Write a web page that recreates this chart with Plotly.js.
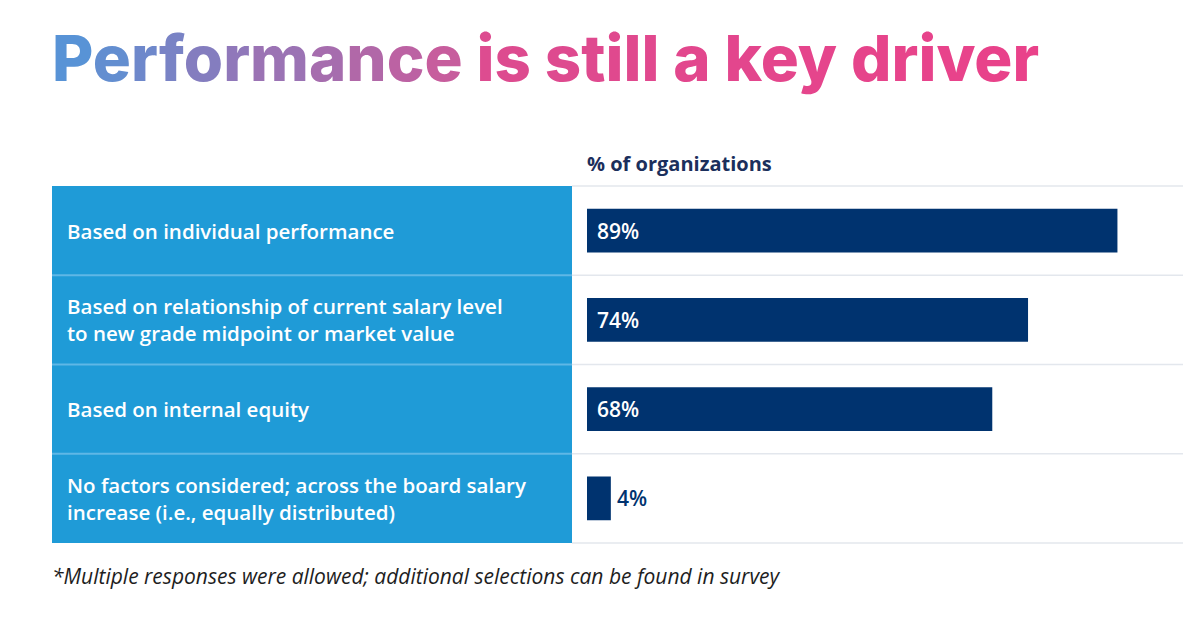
<!DOCTYPE html>
<html>
<head>
<meta charset="utf-8">
<script src="https://cdn.plot.ly/plotly-3.0.1.min.js"></script>
<style>
  html, body { margin: 0; padding: 0; background: #ffffff; }
  #chart { width: 1200px; height: 630px; }
</style>
</head>
<body>
<div id="chart"></div>
<script>
// Survey results: how salary increases are determined
const categories = [
  "Based on individual performance",
  "Based on relationship of current salary level<br>to new grade midpoint or market value",
  "Based on internal equity",
  "No factors considered; across the board salary<br>increase (i.e., equally distributed)"
];
const values = [89, 74, 68, 4];
const valueLabels = ["89%", "74%", "68%", "4%"];

const titleLead = "Performance";
const titleRest = " is still a key driver";
const headerText = "% of organizations";
const footnoteText = "*Multiple responses were allowed; additional selections can be found in survey";

const NAVY = "#00336f";
const PANEL = "#1f9bd7";

// Colour each letter of the title along a blue→pink ramp
function lerpColor(a, b, t) {
  const pa = [1, 3, 5].map(i => parseInt(a.substr(i, 2), 16));
  const pb = [1, 3, 5].map(i => parseInt(b.substr(i, 2), 16));
  const c = pa.map((v, i) => Math.round(v + (pb[i] - v) * t));
  return "rgb(" + c.join(",") + ")";
}
function rampText(str, c1, c2) {
  const chars = str.split("");
  return chars.map((ch, i) => {
    const t = chars.length > 1 ? i / (chars.length - 1) : 0;
    return '<span style="color:' + lerpColor(c1, c2, t) + '">' + ch + '</span>';
  }).join("");
}
const titleHtml = rampText(titleLead, "#5893d6", "#c75d9d") + rampText(titleRest, "#dc4c90", "#e9428a");

const trace = {
  type: "bar",
  orientation: "h",
  y: categories,
  x: values,
  marker: { color: NAVY, line: { width: 0 } },
  width: 0.49,
  hoverinfo: "skip"
};

// Panel edges in paper coordinates (plot area spans x 587..1183 px)
const plotL = 587, plotW = 596;
const panelX0 = (52 - plotL) / plotW;
const panelX1 = (572 - plotL) / plotW;
const labelX = (65 - plotL) / plotW;

const shapes = [
  { type: "rect", xref: "paper", yref: "paper", x0: panelX0, x1: panelX1, y0: 0, y1: 1,
    fillcolor: PANEL, line: { width: 0 }, layer: "below" }
];
const n = categories.length;
for (let i = 0; i <= n; i++) {
  const yy = i / n;
  shapes.push({ type: "line", xref: "paper", yref: "paper", x0: panelX1, x1: 1, y0: yy, y1: yy,
    line: { color: "#e3e7ed", width: 1.5 }, layer: "below" });
  if (i > 0 && i < n) {
    shapes.push({ type: "line", xref: "paper", yref: "paper", x0: panelX0, x1: panelX1, y0: yy, y1: yy,
      line: { color: "#5fb7e6", width: 2 }, layer: "above" });
  }
}

// Row labels inside the blue panel
const annotations = categories.map(c => ({
  xref: "paper", yref: "y", x: labelX, y: c,
  xanchor: "left", yanchor: "middle", align: "left",
  text: c, showarrow: false,
  font: { family: "Open Sans", size: 20.5, weight: 600, color: "#ffffff" }
}));

// Value labels: inside the bar start in white, or just past a short bar in navy
values.forEach((v, i) => {
  const inside = v >= 15;
  annotations.push({
    xref: "x", yref: "y", x: inside ? 0 : v, y: categories[i],
    xanchor: "left", yanchor: "middle", xshift: inside ? 8 : 4,
    text: valueLabels[i], showarrow: false,
    font: { family: "Open Sans", size: 21, weight: 600, color: inside ? "#ffffff" : NAVY }
  });
});

annotations.push({
  xref: "paper", yref: "paper", x: -0.004, y: (543 - 163) / 357,
  xanchor: "left", yanchor: "middle", text: headerText, showarrow: false,
  font: { family: "Open Sans", size: 20, weight: 700, color: "#1b2f5c" }
});
annotations.push({
  xref: "paper", yref: "paper", x: panelX0 - 0.004, y: (543 - 576) / 357,
  xanchor: "left", yanchor: "middle", text: "<i>" + footnoteText + "</i>", showarrow: false,
  font: { family: "Open Sans", size: 21, weight: 500, color: "#1e1e1e" }
});

const layout = {
  width: 1200, height: 630,
  paper_bgcolor: "#ffffff", plot_bgcolor: "rgba(0,0,0,0)",
  margin: { l: plotL, r: 1200 - plotL - plotW, t: 186, b: 87, pad: 0 },
  title: {
    text: titleHtml,
    xref: "container", yref: "container",
    x: 52 / 1200, xanchor: "left",
    y: 1 - 59 / 630, yanchor: "middle",
    font: { family: "Inter", size: 63.5, weight: 800 }
  },
  xaxis: { range: [0, 100], visible: false, fixedrange: true },
  yaxis: { autorange: "reversed", showticklabels: false, showgrid: false, zeroline: false, fixedrange: true },
  showlegend: false,
  bargap: 0.51,
  shapes: shapes,
  annotations: annotations
};

Plotly.newPlot("chart", [trace], layout, { displayModeBar: false, staticPlot: true });
</script>
</body>
</html>
